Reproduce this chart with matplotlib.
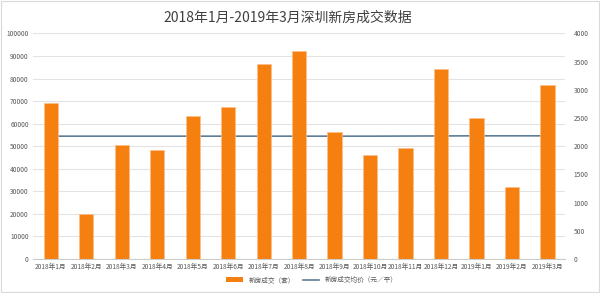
import matplotlib.pyplot as plt
import numpy as np
from matplotlib.patches import Patch
from matplotlib.lines import Line2D

plt.rcParams['font.family'] = ['Noto Sans CJK SC', 'DejaVu Sans']

months = ["2018年1月", "2018年2月", "2018年3月", "2018年4月", "2018年5月",
          "2018年6月", "2018年7月", "2018年8月", "2018年9月", "2018年10月",
          "2018年11月", "2018年12月", "2019年1月", "2019年2月", "2019年3月"]
deals = [69000, 19800, 50700, 48200, 63600, 67500, 86300, 92200, 56100, 46000,
         49200, 84100, 62300, 31800, 77000]
avg_price = [2178, 2178, 2178, 2178, 2178, 2178, 2178, 2178, 2178, 2178,
             2180, 2182, 2184, 2184, 2184]

bar_color = "#f57f0f"
line_color = "#5d7f97"
grid_color = "#e3e3e3"
text_color = "#595959"

fig = plt.figure(figsize=(6, 2.93), dpi=100)
ax = fig.add_axes([0.055, 0.116, 0.887, 0.77])
ax2 = ax.twinx()

x = np.arange(len(months))

# line sits behind the bars
ax2.set_zorder(0)
ax.set_zorder(1)
ax.patch.set_visible(False)

ax2.plot(x, avg_price, color=line_color, linewidth=1.2)
ax.bar(x, deals, width=0.4, color=bar_color, edgecolor="#fbc08a", linewidth=0.5)

ax.set_xlim(-0.5, len(months) - 0.5)
ax.set_ylim(0, 100000)
ax2.set_ylim(0, 4000)
ax.set_yticks(np.arange(0, 100001, 10000))
ax2.set_yticks(np.arange(0, 4001, 500))
ax.set_xticks(x)
ax.set_xticklabels(months)

ax.yaxis.grid(True, color=grid_color, linewidth=0.8)
ax.set_axisbelow(True)
for a in (ax, ax2):
    for s in a.spines.values():
        s.set_visible(False)
    a.tick_params(length=0, labelsize=4.8, colors=text_color)
ax.spines['bottom'].set_visible(True)
ax.spines['bottom'].set_color("#cccccc")
ax.tick_params(axis='x', pad=3)
ax.tick_params(axis='y', pad=3)
ax2.tick_params(axis='y', pad=6)

fig.text(0.48, 0.94, "2018年1月-2019年3月深圳新房成交数据", ha="center", va="center",
         fontsize=10, color="#404040")

handles = [Patch(facecolor=bar_color, edgecolor="none"),
           Line2D([0], [0], color=line_color, linewidth=1.2)]
fig.legend(handles, ["新房成交（套）", "新房成交均价（元／平）"], loc="center",
           bbox_to_anchor=(0.52, 0.045), ncol=2, frameon=False, fontsize=4.8,
           labelcolor=text_color, handlelength=2.5, handleheight=0.6,
           columnspacing=1.2)

fig.patches.append(plt.Rectangle((0.002, 0.003), 0.996, 0.994, transform=fig.transFigure,
                                 fill=False, edgecolor="#d9d9d9", linewidth=0.8))

fig.savefig("out.png", dpi=100)
